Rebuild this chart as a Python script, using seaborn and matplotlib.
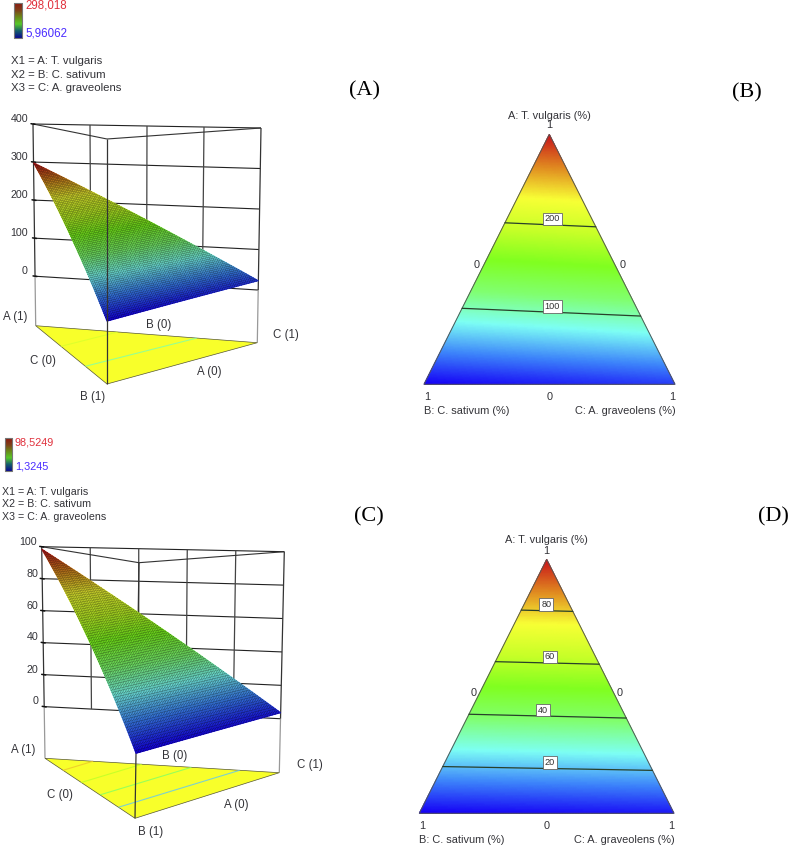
import numpy as np
import pandas as pd
import matplotlib
matplotlib.use("Agg")
import matplotlib.pyplot as plt
import matplotlib.tri as mtri
import seaborn as sns

# values
factor_labels = ["X1 = A: T. vulgaris", "X2 = B: C. sativum", "X3 = C: A. graveolens"]
range_a = ["298,018", "5,96062"]
range_c = ["98,5249", "1,3245"]

# response at the pure A, B and C corners
corners_a = [298.018, 5.96, 23.0]
corners_c = [98.52, 1.32, 3.6]

ticks_a = [0, 100, 200, 300, 400]
ticks_c = [0, 20, 40, 60, 80, 100]

# contour levels, with the A fraction where they meet the left and right edge
levels_b = [100, 200]
levels_b_left = [0.304, 0.646]
levels_b_right = [0.273, 0.630]
levels_d = [20, 40, 60, 80]
levels_d_left = [0.184, 0.390, 0.597, 0.800]
levels_d_right = [0.169, 0.375, 0.587, 0.795]

# same look as the design-expert rainbow
rainbow = sns.blend_palette(["#1500f5", "#3c82fa", "#7dfff5", "#80ff70", "#80ff20",
                             "#c8ff28", "#f8ff35", "#e08a20", "#c8141a"], as_cmap=True)
# the small key next to the 3d plots is much darker
key_cmap = sns.blend_palette(["#0a0a90", "#14606a", "#58c828", "#6a8a18", "#80401a", "#8a1a10"], as_cmap=True)

sns.set_theme(style="white", font="Liberation Sans")
fig = plt.figure(figsize=(7.89, 8.47), dpi=100)
ax = fig.add_axes([0, 0, 1, 1])
ax.set_xlim(0, 789)
ax.set_ylim(847, 0)
ax.axis("off")

txt = "#333338"
fs = 7.9


def simplex(n):
    # explicit triangles, delaunay gives slivers along the straight edges
    index = {}
    pts = []
    for i in range(n + 1):
        for j in range(n + 1 - i):
            index[(i, j)] = len(pts)
            pts.append((i / n, j / n, (n - i - j) / n))
    tris = []
    for i in range(n):
        for j in range(n - i):
            tris.append((index[(i, j)], index[(i + 1, j)], index[(i, j + 1)]))
            if i + j < n - 1:
                tris.append((index[(i + 1, j)], index[(i + 1, j + 1)], index[(i, j + 1)]))
    return np.array(pts), np.array(tris)


def project(a, b, c, z, box):
    # box corners are pixel positions of A, B, C at the top and floor of the prism
    f = (np.asarray(z, dtype=float) - box["ztop"]) / (box["zfloor"] - box["ztop"])
    px = py = 0
    for w, k in zip((a, b, c), "ABC"):
        top, floor = box[k]
        px = px + w * (top[0] + f * (floor[0] - top[0]))
        py = py + w * (top[1] + f * (floor[1] - top[1]))
    return px, py


def line(p, q, box, **kw):
    x0, y0 = project(*p, box)
    x1, y1 = project(*q, box)
    ax.plot([x0, x1], [y0, y1], solid_capstyle="butt", **kw)


def surface_panel(box, corners, ticks, ndiv, levels_l, levels_r, levels, tick_pos, labels, b_over):
    zmin, zmax = min(corners), max(corners)
    ztop, zfl = box["ztop"], box["zfloor"]
    A, B, C = (1, 0, 0), (0, 1, 0), (0, 0, 1)

    # back wall grid
    for t in ticks:
        line(A + (t,), C + (t,), box, color="#222222", lw=0.8, zorder=1)
        x, y = project(1, 0, 0, t, box)
        ax.plot([x - 2, x + 2], [y - 0.3, y + 0.3], color="#111111", lw=1.1, zorder=2)
    for i in range(1, ndiv):
        w = i / ndiv
        line((1 - w, 0, w, ztop), (1 - w, 0, w, 0), box, color="#444444", lw=0.9, zorder=1)
    for k in (A, C):
        line(k + (ztop,), k + (0,), box, color="#333333", lw=0.9, zorder=1)
        line(k + (0,), k + (zfl,), box, color="#999999", lw=0.9, zorder=1)
    line(A + (ztop,), B + (ztop,), box, color="#333333", lw=0.8, zorder=1)
    line(C + (ztop,), B + (ztop,), box, color="#333333", lw=0.8, zorder=1)

    # floor triangle with its faint contours
    fx, fy = project(np.array([1, 0, 0]), np.array([0, 1, 0]), np.array([0, 0, 1]), zfl, box)
    ax.fill(fx, fy, color="#f8ff2a", ec="#555533", lw=0.5, zorder=2)
    for lev, al, ar in zip(levels, levels_l, levels_r):
        col = rainbow((lev - zmin) / (zmax - zmin))
        line((al, 1 - al, 0, zfl), (ar, 0, 1 - ar, zfl), box, color=col, lw=0.8, alpha=0.8, zorder=3)

    # response surface
    pts, tris = simplex(90)
    a, b, c = pts[:, 0], pts[:, 1], pts[:, 2]
    val = a * corners[0] + b * corners[1] + c * corners[2]
    sx, sy = project(a, b, c, val, box)
    tr = mtri.Triangulation(sx, sy, tris)
    ax.tripcolor(tr, (val - zmin) / (zmax - zmin), cmap=rainbow, shading="gouraud", vmin=0, vmax=1, zorder=4)
    ax.triplot(tr, color="black", lw=0.3, alpha=0.42, zorder=5)

    # front edge of the prism
    z_b = 8 if b_over else 3
    line(B + (ztop,), B + (zfl,), box, color="#333333", lw=0.9, zorder=z_b)

    for t, (x, y) in zip(ticks, tick_pos):
        ax.text(x, y, str(t), ha="right", va="center", fontsize=fs - 0.2, color=txt)
    for s, (x, y) in labels.items():
        ax.text(x, y, s, ha="center", va="center", fontsize=fs + 0.4, color=txt)


def ternary_panel(tri, corners, levels, al, ar, label_x, label_off, ty):
    apex, left, right = tri
    pts, tris = simplex(160)
    a, b, c = pts[:, 0], pts[:, 1], pts[:, 2]
    x = a * apex[0] + b * left[0] + c * right[0]
    y = a * apex[1] + b * left[1] + c * right[1]
    val = a * corners[0] + b * corners[1] + c * corners[2]
    zmin, zmax = min(corners), max(corners)
    ax.tripcolor(mtri.Triangulation(x, y, tris), (val - zmin) / (zmax - zmin), cmap=rainbow,
                 shading="gouraud", vmin=0, vmax=1, zorder=2)
    ax.fill([apex[0], left[0], right[0]], [apex[1], left[1], right[1]],
            fc="none", ec="#555555", lw=0.7, zorder=3)

    for i, lev in enumerate(levels):
        xl = al[i] * apex[0] + (1 - al[i]) * left[0]
        yl = al[i] * apex[1] + (1 - al[i]) * left[1]
        xr = ar[i] * apex[0] + (1 - ar[i]) * right[0]
        yr = ar[i] * apex[1] + (1 - ar[i]) * right[1]
        df = pd.DataFrame({"x": [xl, xr], "y": [yl, yr]})
        sns.lineplot(data=df, x="x", y="y", ax=ax, color="#28402a", lw=0.9, sort=False,
                     estimator=None, legend=False, zorder=4)
        lx = label_x[i]
        ly = yl + (yr - yl) * (lx - xl) / (xr - xl) - label_off
        ax.text(lx, ly, str(lev), ha="center", va="center", fontsize=6.6, color="#333333", zorder=6,
                bbox=dict(boxstyle="square,pad=0.2", fc="white", ec="#666666", lw=0.6))

    ax.set_xlim(0, 789)
    ax.set_ylim(847, 0)
    ax.set_xlabel("")
    ax.set_ylabel("")
    cx = apex[0]
    ax.text(cx, ty["title"], "A: T. vulgaris (%)", ha="center", va="center", fontsize=fs, color=txt)
    ax.text(cx, ty["one"], "1", ha="center", va="center", fontsize=fs, color=txt)
    ax.text(cx - 73, ty["mid"], "0", ha="center", va="center", fontsize=fs, color=txt)
    ax.text(cx + 73, ty["mid"], "0", ha="center", va="center", fontsize=fs, color=txt)
    ax.text(left[0] + 3, ty["base"], "1", ha="center", va="center", fontsize=fs, color=txt)
    ax.text(cx, ty["base"], "0", ha="center", va="center", fontsize=fs, color=txt)
    ax.text(right[0] - 3, ty["base"], "1", ha="center", va="center", fontsize=fs, color=txt)
    ax.text(left[0], ty["names"], "B: C. sativum (%)", ha="left", va="center", fontsize=fs, color=txt)
    ax.text(right[0] + 1, ty["names"], "C: A. graveolens (%)", ha="right", va="center", fontsize=fs, color=txt)


def header(x0, y0, x1, y1, rng, tx, ty_range, lx, ly, size):
    grad = np.linspace(1, 0, 64).reshape(-1, 1)
    ax.imshow(grad, cmap=key_cmap, extent=(x0, x1, y1, y0), aspect="auto", zorder=2)
    ax.plot([x0, x1, x1, x0, x0], [y0, y0, y1, y1, y0], color="#777777", lw=0.8, zorder=3)
    ax.text(tx, ty_range[0], rng[0], color="#e0303c", fontsize=size + 0.1, ha="left", va="center")
    ax.text(tx, ty_range[1], rng[1], color="#4a2cff", fontsize=size + 0.1, ha="left", va="center")
    for s, y in zip(factor_labels, ly):
        ax.text(lx, y, s, color=txt, fontsize=size, ha="left", va="center")


box_a = {"ztop": 400, "zfloor": -130, "A": ((33, 124), (35.7, 325.7)),
         "B": ((107, 139), (107, 384)), "C": ((261, 128), (257.3, 342.7))}
box_c = {"ztop": 100, "zfloor": -32.3, "A": ((41.7, 546.7), (45, 758.3)),
         "B": ((139, 562.7), (135, 818.3)), "C": ((284.3, 551.7), (279.3, 772.7))}

header(14.3, 2.7, 22.3, 37.7, range_a, 25.5, (6, 33), 11.5, (60.7, 74.7, 88.3), 8.2)
header(5, 438.3, 12, 470.7, range_c, 15, (442.3, 466.7), 2, (492, 504.3, 517), 7.7)

surface_panel(box_a, corners_a, ticks_a, 4, levels_b_left, levels_b_right, levels_b,
              [(28, 270.7), (28, 232.7), (28, 195), (28, 157), (28, 119)],
              {"A (1)": (15, 316.7), "C (0)": (42.7, 360.7), "B (1)": (92.7, 397.3),
               "A (0)": (209, 372.3), "C (1)": (286, 335), "B (0)": (158.3, 325)}, True)
surface_panel(box_c, corners_c, ticks_c, 5, levels_d_left, levels_d_right, levels_d,
              [(38.5, 700.7), (38.5, 670), (38.5, 637.3), (38.5, 605.7), (38.5, 574), (37, 542.3)],
              {"A (1)": (23.3, 750), "C (0)": (60, 795), "B (1)": (151, 832.3),
               "A (0)": (236, 805), "C (1)": (310, 765), "B (0)": (175, 756)}, False)

ternary_panel(((549.3, 134.3), (424, 384.3), (675, 384.3)), corners_a, levels_b,
              levels_b_left, levels_b_right, [552.3, 552.3], 6,
              dict(title=116, one=125.5, mid=265, base=397, names=410.5))
ternary_panel(((546.7, 559.3), (419.3, 813.3), (674, 813.3)), corners_c, levels_d,
              levels_d_left, levels_d_right, [549.7, 543.3, 549.7, 546.3], 6,
              dict(title=540, one=550.5, mid=692.5, base=826, names=840))

for s, x, y in [("(A)", 365, 90.5), ("(B)", 747, 93), ("(C)", 369, 517), ("(D)", 773, 517)]:
    ax.text(x, y, s, family="Liberation Serif", fontsize=16, color="black", ha="center", va="center")

ax.set_xlim(0, 789)
ax.set_ylim(847, 0)
fig.savefig("out.png", dpi=100)
